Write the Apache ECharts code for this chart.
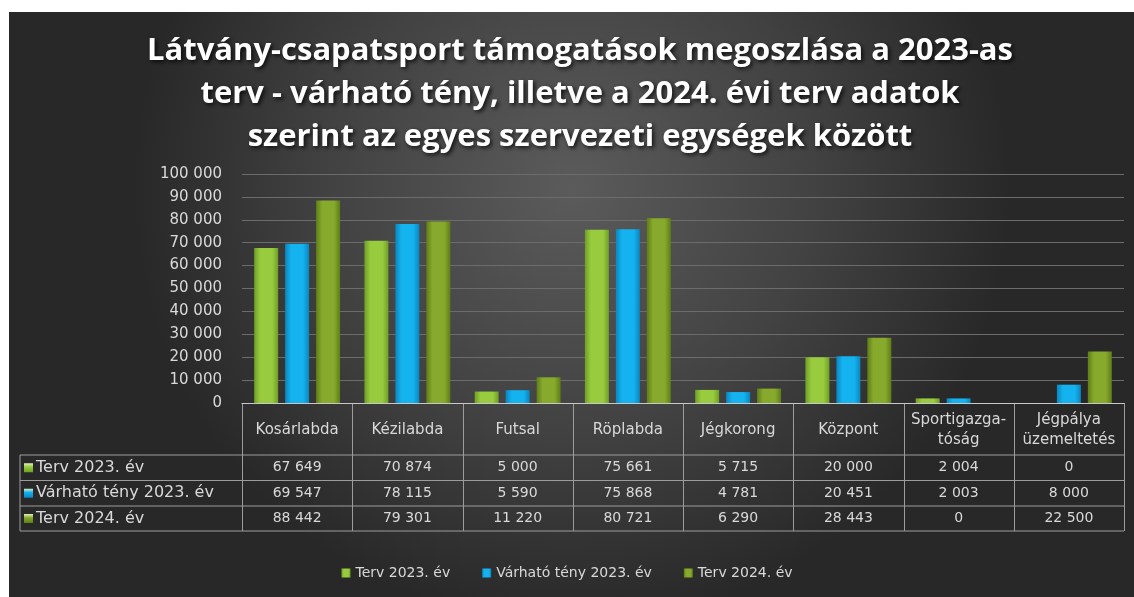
<!DOCTYPE html>
<html>
<head>
<meta charset="utf-8">
<script src="https://cdn.jsdelivr.net/npm/echarts@6/dist/echarts.min.js"></script>
<style>
  html, body { margin: 0; padding: 0; background: #fff; }
  #echart { width: 1134px; height: 597px; }
</style>
</head>
<body>
<div id="echart"></div>
<script>
var categories = ['Kosárlabda', 'Kézilabda', 'Futsal', 'Röplabda', 'Jégkorong', 'Központ', 'Sportigazga-\ntóság', 'Jégpálya\nüzemeltetés'];
var seriesNames = ['Terv 2023. év', 'Várható tény 2023. év', 'Terv 2024. év'];
var terv2023 = [67649, 70874, 5000, 75661, 5715, 20000, 2004, 0];
var varhato2023 = [69547, 78115, 5590, 75868, 4781, 20451, 2003, 8000];
var terv2024 = [88442, 79301, 11220, 80721, 6290, 28443, 0, 22500];
var yTicks = [0, 10000, 20000, 30000, 40000, 50000, 60000, 70000, 80000, 90000, 100000];

var colors = ['#98cc3e', '#14b2ef', '#87a92c'];
var edge = ['#6f9e26', '#0a86bf', '#5f7d17'];

function fmt(v) {
  return String(v).replace(/\B(?=(\d{3})+(?!\d))/g, ' ');
}

// layout
var W = 1134, H = 597;
var gl = 242, gr = 1124, gTop = 174, axisY = 403;
var tableLeft = 20;
var rowLines = [455, 480.5, 506, 531];
var colW = (gr - gl) / categories.length;
var lineCol = '#9c9c9c';
var txtCol = '#d9d9d9';
var font = '"DejaVu Sans", "Noto Sans", sans-serif';
var titleFont = '"Open Sans", "Noto Sans", sans-serif';

var myChart = echarts.init(document.getElementById('echart'));

var graphics = [];
graphics.push({
  type: 'rect', z: -100,
  shape: { x: 9, y: 12, width: W - 9, height: H - 12 },
  style: {
    fill: new echarts.graphic.RadialGradient(0.5, 0.3, 0.75, [
      { offset: 0, color: '#5b5b5b' },
      { offset: 0.55, color: '#424242' },
      { offset: 1, color: '#282828' }
    ])
  },
  silent: true
});

// table lines
function hline(x1, x2, y) {
  graphics.push({ type: 'line', shape: { x1: x1, y1: y, x2: x2, y2: y }, style: { stroke: lineCol, lineWidth: 1 }, silent: true });
}
function vline(x, y1, y2) {
  graphics.push({ type: 'line', shape: { x1: x, y1: y1, x2: x, y2: y2 }, style: { stroke: lineCol, lineWidth: 1 }, silent: true });
}
rowLines.forEach(function (y) { hline(tableLeft, gr, y); });
vline(tableLeft, rowLines[0], rowLines[3]);
for (var c = 0; c <= categories.length; c++) {
  vline(Math.round(gl + c * colW) + 0.5, axisY, rowLines[3]);
}

var rows = [terv2023, varhato2023, terv2024];
rows.forEach(function (arr, r) {
  var yc = (rowLines[r] + rowLines[r + 1]) / 2;
  graphics.push({
    type: 'rect', silent: true,
    shape: { x: 24, y: yc - 4.5, width: 9, height: 9 },
    style: { fill: new echarts.graphic.LinearGradient(0, 0, 0, 1, [{ offset: 0, color: '#e0f0c0' }, { offset: 0.4, color: colors[r] }, { offset: 1, color: edge[r] }]) }
  });
  graphics.push({
    type: 'text', silent: true, x: 36, y: yc,
    style: { text: seriesNames[r], fill: txtCol, font: '16px ' + font, verticalAlign: 'middle', textAlign: 'left' }
  });
  arr.forEach(function (v, i) {
    graphics.push({
      type: 'text', silent: true, x: gl + (i + 0.5) * colW, y: yc,
      style: { text: fmt(v), fill: txtCol, font: '14px ' + font, verticalAlign: 'middle', textAlign: 'center' }
    });
  });
});

function barStyle(i) {
  return {
    color: new echarts.graphic.LinearGradient(0, 0, 1, 0, [
      { offset: 0, color: edge[i] },
      { offset: 0.25, color: colors[i] },
      { offset: 0.75, color: colors[i] },
      { offset: 1, color: edge[i] }
    ])
  };
}

var option = {
  backgroundColor: '#ffffff',
  animation: false,
  title: {
    text: 'Látvány-csapatsport támogatások megoszlása a 2023-as\nterv - várható tény, illetve a 2024. évi terv adatok\nszerint az egyes szervezeti egységek között',
    left: 575,
    top: 25,
    textAlign: 'center',
    textStyle: {
      color: '#ffffff',
      fontFamily: titleFont,
      fontWeight: 'bold',
      fontSize: 31,
      lineHeight: 43,
      textShadowColor: 'rgba(0,0,0,0.8)',
      textShadowBlur: 4,
      textShadowOffsetX: 2,
      textShadowOffsetY: 2
    }
  },
  legend: {
    data: seriesNames,
    bottom: 12,
    left: 'center',
    icon: 'rect',
    itemWidth: 9,
    itemHeight: 9,
    itemGap: 32,
    textStyle: { color: txtCol, fontSize: 14, fontFamily: font }
  },
  grid: { left: gl, right: W - gr, top: gTop, bottom: H - axisY, containLabel: false },
  xAxis: {
    type: 'category',
    data: categories,
    axisLine: { lineStyle: { color: '#c8c8c8', width: 1 } },
    axisTick: { show: false },
    axisLabel: {
      color: txtCol, fontSize: 15, fontFamily: font, lineHeight: 20,
      verticalAlign: 'middle', margin: 27, interval: 0
    }
  },
  yAxis: {
    type: 'value',
    min: yTicks[0],
    max: yTicks[yTicks.length - 1],
    interval: yTicks[1] - yTicks[0],
    axisLine: { show: false },
    axisTick: { show: false },
    axisLabel: { color: txtCol, fontSize: 15, fontFamily: font, margin: 20, formatter: fmt },
    splitLine: { lineStyle: { color: '#6c6c6c', width: 1 } }
  },
  series: [
    { name: seriesNames[0], type: 'bar', data: terv2023, barWidth: 24, barGap: '29%', itemStyle: barStyle(0) },
    { name: seriesNames[1], type: 'bar', data: varhato2023, barWidth: 24, barGap: '29%', itemStyle: barStyle(1) },
    { name: seriesNames[2], type: 'bar', data: terv2024, barWidth: 24, barGap: '29%', itemStyle: barStyle(2) }
  ],
  graphic: { elements: graphics }
};
myChart.setOption(option);
</script>
</body>
</html>
